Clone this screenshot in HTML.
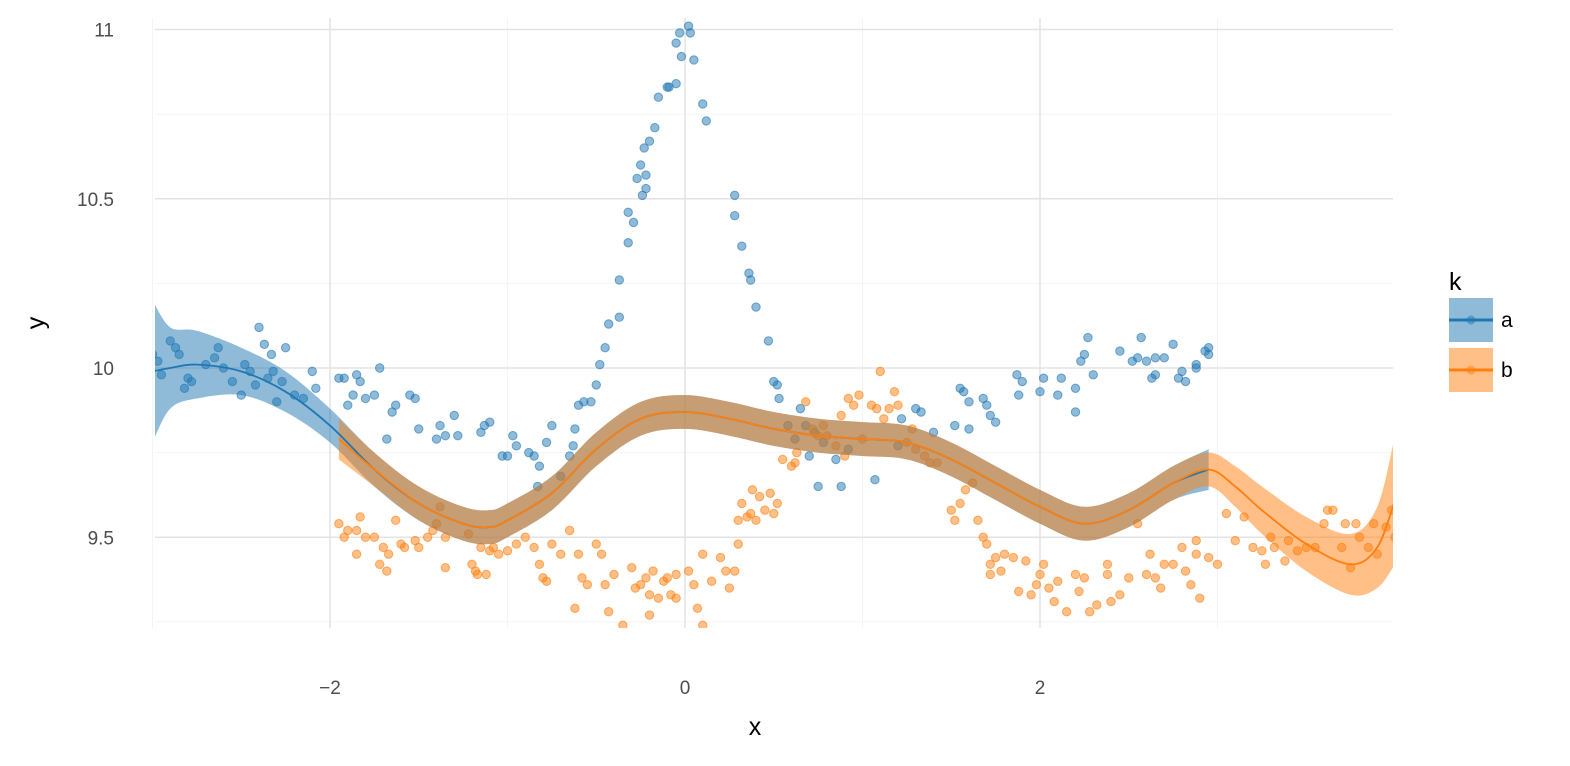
<!DOCTYPE html>
<html><head><meta charset="utf-8"><style>
body{margin:0;background:#fff;}
svg text{font-family:"Liberation Sans","DejaVu Sans",sans-serif;}
</style></head><body>
<svg id="c" width="1570" height="761"></svg>
<script>
const ax=[-3,-2.97,-2.95,-2.9,-2.87,-2.85,-2.82,-2.8,-2.78,-2.7,-2.65,-2.63,-2.6,-2.55,-2.5,-2.48,-2.45,-2.42,-2.4,-2.37,-2.35,-2.33,-2.32,-2.3,-2.27,-2.25,-2.2,-2.15,-2.1,-2.08,-1.95,-1.92,-1.9,-1.87,-1.85,-1.83,-1.8,-1.75,-1.72,-1.68,-1.65,-1.63,-1.55,-1.52,-1.5,-1.4,-1.38,-1.35,-1.3,-1.28,-1.15,-1.13,-1.1,-1.03,-1.0,-0.97,-0.95,-0.88,-0.85,-0.83,-0.82,-0.78,-0.75,-0.7,-0.65,-0.63,-0.62,-0.6,-0.57,-0.53,-0.5,-0.48,-0.45,-0.43,-0.37,-0.37,-0.32,-0.32,-0.29,-0.27,-0.25,-0.24,-0.23,-0.22,-0.22,-0.2,-0.17,-0.15,-0.1,-0.09,-0.05,-0.05,-0.03,-0.02,0.02,0.03,0.05,0.1,0.12,0.28,0.28,0.32,0.36,0.37,0.4,0.47,0.5,0.52,0.53,0.58,0.62,0.65,0.68,0.7,0.73,0.75,0.78,0.85,0.88,0.92,1.07,1.2,1.22,1.3,1.33,1.4,1.52,1.55,1.57,1.6,1.6,1.68,1.7,1.72,1.75,1.87,1.9,1.88,2.0,2.02,2.1,2.12,2.2,2.2,2.23,2.25,2.27,2.3,2.45,2.52,2.55,2.57,2.6,2.63,2.65,2.65,2.7,2.75,2.78,2.8,2.82,2.88,2.88,2.93,2.95,2.95];
const ay=[10.04,10.02,9.98,10.08,10.06,10.04,9.94,9.97,9.96,10.01,10.03,10.06,10.0,9.96,9.92,10.01,9.99,9.95,10.12,10.07,9.97,10.04,9.99,9.9,9.96,10.06,9.92,9.91,9.99,9.94,9.97,9.97,9.89,9.92,9.98,9.96,9.91,9.92,10.0,9.79,9.87,9.89,9.92,9.91,9.82,9.79,9.83,9.8,9.86,9.8,9.81,9.83,9.84,9.74,9.74,9.8,9.77,9.75,9.74,9.65,9.71,9.78,9.83,9.68,9.74,9.77,9.82,9.89,9.9,9.9,9.95,10.01,10.06,10.13,10.15,10.26,10.37,10.46,10.43,10.56,10.6,10.51,10.65,10.57,10.53,10.67,10.71,10.8,10.83,10.83,10.84,10.96,10.99,10.92,11.01,10.99,10.91,10.78,10.73,10.51,10.45,10.36,10.28,10.26,10.18,10.08,9.96,9.95,9.91,9.83,9.79,9.88,9.83,9.74,9.81,9.65,9.78,9.73,9.65,9.76,9.67,9.77,9.85,9.88,9.87,9.81,9.83,9.94,9.93,9.9,9.82,9.91,9.89,9.86,9.84,9.98,9.96,9.92,9.93,9.97,9.92,9.97,9.87,9.94,10.02,10.04,10.09,9.98,10.05,10.02,10.03,10.09,10.02,9.97,10.03,9.98,10.03,10.07,9.97,9.99,9.96,10.01,10.0,10.05,10.06,10.04];
const bx=[-1.95,-1.92,-1.9,-1.85,-1.83,-1.85,-1.8,-1.75,-1.72,-1.7,-1.68,-1.67,-1.63,-1.6,-1.58,-1.52,-1.5,-1.45,-1.42,-1.4,-1.38,-1.35,-1.35,-1.22,-1.2,-1.18,-1.17,-1.15,-1.12,-1.1,-1.08,-1.05,-1.0,-0.95,-0.9,-0.85,-0.82,-0.8,-0.78,-0.75,-0.7,-0.65,-0.6,-0.62,-0.58,-0.55,-0.5,-0.47,-0.45,-0.43,-0.4,-0.35,-0.3,-0.28,-0.25,-0.22,-0.2,-0.2,-0.18,-0.15,-0.12,-0.1,-0.08,-0.05,-0.05,0.02,0.05,0.07,0.1,0.1,0.15,0.2,0.23,0.25,0.28,0.3,0.3,0.32,0.35,0.37,0.38,0.4,0.42,0.45,0.48,0.5,0.52,0.55,0.6,0.62,0.63,0.68,0.72,0.75,0.78,0.8,0.85,0.88,0.9,0.92,0.95,0.98,1.0,1.05,1.08,1.1,1.12,1.15,1.18,1.2,1.25,1.28,1.3,1.35,1.38,1.42,1.5,1.52,1.55,1.58,1.62,1.65,1.68,1.7,1.72,1.72,1.75,1.78,1.8,1.85,1.88,1.92,1.95,1.98,2.0,2.02,2.05,2.08,2.1,2.15,2.2,2.22,2.25,2.28,2.32,2.38,2.38,2.4,2.45,2.5,2.55,2.6,2.62,2.65,2.68,2.7,2.75,2.8,2.82,2.85,2.88,2.88,2.9,2.95,3.0,3.05,3.1,3.15,3.2,3.25,3.27,3.3,3.32,3.38,3.4,3.45,3.5,3.55,3.6,3.62,3.65,3.7,3.72,3.75,3.78,3.8,3.85,3.88,3.9,3.95,3.98,4.0];
const by=[9.54,9.5,9.52,9.52,9.56,9.45,9.5,9.5,9.42,9.47,9.4,9.45,9.55,9.48,9.47,9.49,9.47,9.5,9.52,9.54,9.59,9.5,9.41,9.51,9.42,9.4,9.39,9.47,9.39,9.46,9.47,9.45,9.46,9.48,9.5,9.47,9.42,9.38,9.37,9.48,9.45,9.52,9.45,9.29,9.38,9.36,9.48,9.45,9.36,9.28,9.39,9.24,9.41,9.35,9.36,9.38,9.33,9.27,9.4,9.32,9.37,9.38,9.33,9.39,9.32,9.4,9.36,9.29,9.45,9.24,9.37,9.44,9.4,9.35,9.4,9.55,9.48,9.6,9.56,9.57,9.64,9.55,9.62,9.58,9.63,9.57,9.6,9.73,9.71,9.72,9.75,9.9,9.82,9.8,9.83,9.8,9.77,9.86,9.74,9.91,9.89,9.92,9.79,9.89,9.88,9.99,9.85,9.88,9.93,9.89,9.78,9.82,9.76,9.74,9.72,9.72,9.58,9.55,9.6,9.64,9.66,9.55,9.5,9.48,9.42,9.39,9.44,9.4,9.45,9.44,9.34,9.43,9.33,9.36,9.39,9.42,9.35,9.31,9.37,9.28,9.39,9.34,9.38,9.28,9.3,9.42,9.39,9.31,9.33,9.38,9.54,9.39,9.45,9.38,9.35,9.42,9.42,9.47,9.4,9.36,9.45,9.49,9.32,9.44,9.42,9.57,9.49,9.56,9.47,9.46,9.42,9.5,9.47,9.43,9.49,9.46,9.47,9.47,9.54,9.58,9.58,9.47,9.54,9.41,9.54,9.5,9.47,9.54,9.45,9.53,9.58,9.5];
const sax=[-3,-2.9,-2.75,-2.5,-2.25,-2,-1.75,-1.5,-1.25,-1.1,-1,-0.75,-0.5,-0.25,0,0.25,0.5,0.75,1,1.25,1.5,1.75,2,2.25,2.5,2.75,2.95];
const say=[9.99,10.0,10.01,9.99,9.93,9.83,9.7,9.6,9.54,9.53,9.55,9.63,9.76,9.85,9.87,9.85,9.82,9.8,9.79,9.78,9.73,9.66,9.59,9.54,9.58,9.66,9.7];
const sase=[0.21,0.12,0.1,0.07,0.06,0.05,0.05,0.05,0.05,0.05,0.05,0.05,0.05,0.05,0.05,0.05,0.05,0.05,0.05,0.05,0.05,0.05,0.05,0.05,0.05,0.05,0.06];
const sbx=[-1.95,-1.75,-1.5,-1.25,-1.1,-1,-0.75,-0.5,-0.25,0,0.25,0.5,0.75,1,1.25,1.5,1.75,2,2.25,2.5,2.75,2.95,3.1,3.25,3.5,3.75,3.9,4];
const sby=[9.79,9.7,9.6,9.54,9.53,9.55,9.63,9.76,9.85,9.87,9.85,9.82,9.8,9.79,9.78,9.73,9.66,9.59,9.54,9.58,9.66,9.7,9.65,9.58,9.48,9.42,9.47,9.61];
const sbse=[0.06,0.05,0.05,0.05,0.05,0.05,0.05,0.05,0.05,0.05,0.05,0.05,0.05,0.05,0.05,0.05,0.05,0.05,0.05,0.05,0.05,0.05,0.06,0.07,0.08,0.09,0.12,0.19];
const xTicks=[-2,0,2], xTickLabels=["\u22122","0","2"];
const yTicks=[9.5,10,10.5,11], yTickLabels=["9.5","10","10.5","11"];
const xMinor=[-3,-1,1,3], yMinor=[9.25,9.75,10.25,10.75];

const svg=document.getElementById('c'),NS='http://www.w3.org/2000/svg';
const L=155,R=1393,T=18,B=628;
const X=v=>685+v*177.5, Y=v=>368-(v-10)*338.5;
function mk(t,a,p){const e=document.createElementNS(NS,t);for(const k in a)e.setAttribute(k,a[k]);(p||svg).appendChild(e);return e;}
function spline(P,start){let d=start?'M'+P[0][0]+','+P[0][1]:'L'+P[0][0]+','+P[0][1];
for(let i=0;i<P.length-1;i++){const p0=P[Math.max(0,i-1)],p1=P[i],p2=P[i+1],p3=P[Math.min(P.length-1,i+2)];
d+='C'+(p1[0]+(p2[0]-p0[0])/6)+','+(p1[1]+(p2[1]-p0[1])/6)+' '+(p2[0]-(p3[0]-p1[0])/6)+','+(p2[1]-(p3[1]-p1[1])/6)+' '+p2[0]+','+p2[1];}
return d;}
const grid=mk('g',{});


xMinor.forEach(v=>{if(X(v)>=L-5&&X(v)<=R+5)mk('line',{x1:X(v),x2:X(v),y1:T,y2:B,stroke:'#f4f4f4','stroke-width':1},grid);});
yMinor.forEach(v=>mk('line',{x1:L,x2:R,y1:Y(v),y2:Y(v),stroke:'#f4f4f4','stroke-width':1},grid));
xTicks.forEach(v=>mk('line',{x1:X(v),x2:X(v),y1:T,y2:B,stroke:'#e3e3e3','stroke-width':1.5},grid));
yTicks.forEach(v=>mk('line',{x1:L,x2:R,y1:Y(v),y2:Y(v),stroke:'#e3e3e3','stroke-width':1.5},grid));
const clip=mk('clipPath',{id:'cp'});mk('rect',{x:L,y:T,width:R-L,height:B-T},clip);
const plot=mk('g',{'clip-path':'url(#cp)'});


function pts(xs,ys,col,name){const g=mk('g',{},plot);


xs.forEach((x,i)=>{const c=mk('circle',{cx:X(x),cy:Y(ys[i]),r:4.2,fill:col,'fill-opacity':0.5,stroke:col,'stroke-opacity':0.6,'stroke-width':1},g);

});}
function ribbon(xs,ys,se,col,name){const up=xs.map((x,i)=>[X(x),Y(ys[i]+se[i])]);
const lo=xs.map((x,i)=>[X(x),Y(ys[i]-se[i])]).reverse();
const p=mk('path',{d:spline(up,true)+spline(lo,false)+'Z',fill:col,'fill-opacity':0.5},plot);

}
function line(xs,ys,col,name){const p=mk('path',{d:spline(xs.map((x,i)=>[X(x),Y(ys[i])]),true),fill:'none',stroke:col,'stroke-width':1.8},plot);

}
pts(ax,ay,'#1f77b4','series-a');
pts(bx,by,'#ff7f0e','series-b');
ribbon(sax,say,sase,'#1f77b4','ribbon-a');
ribbon(sbx,sby,sbse,'#ff7f0e','ribbon-b');
line(sax,say,'#1f77b4','smooth-a');
line(sbx,sby,'#ff7f0e','smooth-b');
xTicks.forEach((v,i)=>{const t=mk('text',{x:X(v),y:694,'text-anchor':'middle','font-size':19,fill:'#4d4d4d'});t.textContent=xTickLabels[i];

});
yTicks.forEach((v,i)=>{const t=mk('text',{x:114,y:Y(v)+7,'text-anchor':'end','font-size':19,fill:'#4d4d4d'});t.textContent=yTickLabels[i];

});
</script>
<div style="position:absolute;left:0;top:0;width:1570px;height:761px;pointer-events:none">
<svg width="1570" height="761" style="position:absolute;left:0;top:0">
<text x="755" y="735" text-anchor="middle" font-size="25" fill="#000" font-family="Liberation Sans, sans-serif">x</text>
<text x="0" y="0" transform="translate(44,323) rotate(-90)" text-anchor="middle" font-size="25" fill="#000" font-family="Liberation Sans, sans-serif">y</text>
<g font-family="Liberation Sans, sans-serif">
<text x="1449" y="290" font-size="25">k</text>
<g>
<rect x="1449" y="298" width="44" height="44" fill="#1f77b4" fill-opacity="0.5"/>
<line x1="1449" x2="1493" y1="320" y2="320" stroke="#1f77b4" stroke-width="3"/>
<circle cx="1471" cy="320" r="4.5" fill="#1f77b4" fill-opacity="0.5"/>
<text x="1501" y="327" font-size="21">a</text></g>
<g>
<rect x="1449" y="348" width="44" height="44" fill="#ff7f0e" fill-opacity="0.5"/>
<line x1="1449" x2="1493" y1="370" y2="370" stroke="#ff7f0e" stroke-width="3"/>
<circle cx="1471" cy="370" r="4.5" fill="#ff7f0e" fill-opacity="0.5"/>
<text x="1501" y="377" font-size="21">b</text></g>
</g>
</svg></div>
</body></html>
